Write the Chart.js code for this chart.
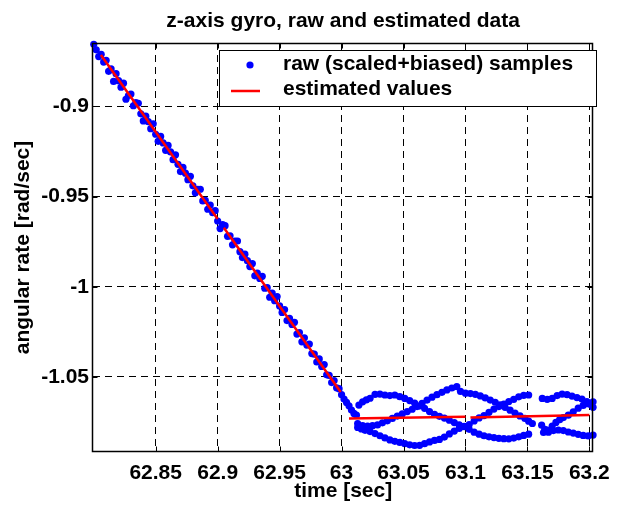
<!DOCTYPE html>
<html>
<head>
<meta charset="utf-8">
<script src="https://cdn.jsdelivr.net/npm/chart.js@4/dist/chart.umd.min.js"></script>
<style>
  html, body { margin: 0; padding: 0; background: #fff; }
  canvas { display: block; }
</style>
</head>
<body>
<canvas id="gyroChart" width="619" height="506"></canvas>
<script>
// axis ticks and ranges
var xTickValues = [62.85, 62.9, 62.95, 63, 63.05, 63.1, 63.15, 63.2];
var yTickValues = [-1.05, -1, -0.95, -0.9];
var xRange = [62.7994, 63.2032];
var yRange = [-1.0916, -0.8648];

// raw samples, ramp part (62.8 .. 63.012)
var rampTime = [
  62.800,62.802,62.804,62.806,62.808,62.810,62.812,62.814,62.816,62.818,
  62.820,62.822,62.824,62.826,62.828,62.830,62.832,62.834,62.836,62.838,
  62.840,62.842,62.844,62.846,62.848,62.850,62.852,62.854,62.856,62.858,
  62.860,62.862,62.864,62.866,62.868,62.870,62.872,62.874,62.876,62.878,
  62.880,62.882,62.884,62.886,62.888,62.890,62.892,62.894,62.896,62.898,
  62.900,62.902,62.904,62.906,62.908,62.910,62.912,62.914,62.916,62.918,
  62.920,62.922,62.924,62.926,62.928,62.930,62.932,62.934,62.936,62.938,
  62.940,62.942,62.944,62.946,62.948,62.950,62.952,62.954,62.956,62.958,
  62.960,62.962,62.964,62.966,62.968,62.970,62.972,62.974,62.976,62.978,
  62.980,62.982,62.984,62.986,62.988,62.990,62.992,62.994,62.996,62.998,
  63.000,63.002,63.004,63.006,63.008,63.010,63.012
];
var rampRate = [
  -0.8655,-0.8686,-0.8723,-0.8711,-0.8754,-0.8744,-0.8805,-0.8792,-0.8861,-0.8818,
  -0.8857,-0.8893,-0.8871,-0.8960,-0.8939,-0.8931,-0.8996,-0.8978,-0.8982,-0.9041,
  -0.9080,-0.9054,-0.9084,-0.9123,-0.9096,-0.9154,-0.9193,-0.9166,-0.9202,-0.9243,
  -0.9216,-0.9252,-0.9295,-0.9268,-0.9321,-0.9361,-0.9338,-0.9370,-0.9406,-0.9387,
  -0.9440,-0.9479,-0.9459,-0.9459,-0.9524,-0.9521,-0.9570,-0.9547,-0.9589,-0.9578,
  -0.9635,-0.9677,-0.9655,-0.9661,-0.9720,-0.9717,-0.9767,-0.9746,-0.9746,-0.9805,
  -0.9838,-0.9819,-0.9855,-0.9888,-0.9871,-0.9939,-0.9924,-0.9954,-0.9942,-1.0008,
  -1.0005,-1.0058,-1.0035,-1.0077,-1.0054,-1.0106,-1.0142,-1.0126,-1.0187,-1.0175,
  -1.0209,-1.0197,-1.0262,-1.0254,-1.0305,-1.0283,-1.0323,-1.0317,-1.0370,-1.0373,
  -1.0417,-1.0400,-1.0442,-1.0431,-1.0488,-1.0491,-1.0531,-1.0520,-1.0560,-1.0565,
  -1.0598,-1.0622,-1.0641,-1.0660,-1.0683,-1.0702,-1.0712
];

// raw samples after 63 s: three interleaved strands
var strandATime = [
  63.013,63.017,63.021,63.025,63.029,63.033,63.037,63.041,63.045,63.049,
  63.053,63.057,63.061,63.065,63.069,63.073,63.077,63.081,63.085,63.089,
  63.093,63.096,63.100,63.104,63.108,63.112,63.116,63.120,63.124,63.128,
  63.132,63.136,63.140,63.144,63.148,63.151,63.154,
  63.1615,63.164,63.167,63.171,63.175,63.179,63.183,63.187,63.191,63.195,63.199,63.203
];
var strandARate = [
  -1.0758,-1.0770,-1.0772,-1.0770,-1.0766,-1.0754,-1.0743,-1.0730,-1.0717,-1.0705,
  -1.0692,-1.0679,-1.0664,-1.0646,-1.0628,-1.0612,-1.0598,-1.0585,-1.0572,-1.0561,
  -1.0553,-1.0580,-1.0590,-1.0592,-1.0596,-1.0605,-1.0616,-1.0628,-1.0640,-1.0655,
  -1.0668,-1.0684,-1.0700,-1.0716,-1.0730,-1.0745,-1.0758,
  -1.0767,-1.0790,-1.0806,-1.0797,-1.0794,-1.0797,-1.0805,-1.0811,-1.0818,-1.0824,-1.0827,-1.0822
];
var strandBTime = [
  63.014,63.017,63.020,63.023,63.027,63.031,63.035,63.039,63.043,63.047,
  63.051,63.055,63.059,63.063,63.067,63.071,63.075,63.079,63.083,63.087,
  63.091,63.095,63.099,63.103,63.107,63.111,63.115,63.119,63.123,63.127,
  63.131,63.135,63.139,63.143,63.147,63.151,
  63.163,63.166,63.170,63.173,63.176,63.179,63.183,63.187,63.191,63.195,63.199,63.203
];
var strandBRate = [
  -1.0656,-1.0638,-1.0627,-1.0618,-1.0597,-1.0595,-1.0600,-1.0603,-1.0600,-1.0609,
  -1.0619,-1.0631,-1.0645,-1.0660,-1.0674,-1.0692,-1.0707,-1.0718,-1.0728,-1.0740,
  -1.0753,-1.0766,-1.0775,-1.0790,-1.0806,-1.0817,-1.0826,-1.0832,-1.0836,-1.0840,
  -1.0842,-1.0843,-1.0839,-1.0832,-1.0824,-1.0817,
  -1.0808,-1.0795,-1.0772,-1.0752,-1.0737,-1.0725,-1.0712,-1.0693,-1.0673,-1.0658,-1.0648,-1.0638
];
var strandCTime = [
  63.013,63.016,63.019,63.023,63.027,63.031,63.035,63.039,63.043,63.047,
  63.051,63.055,63.059,63.063,63.067,63.071,63.075,63.079,63.083,63.087,
  63.091,63.095,63.099,63.103,63.107,63.111,63.115,63.119,63.123,63.127,
  63.131,63.135,63.139,63.143,63.147,63.151,
  63.162,63.166,63.170,63.174,63.178,63.182,63.186,63.190,63.194,63.198,63.201,63.203
];
var strandCRate = [
  -1.0780,-1.0788,-1.0796,-1.0803,-1.0814,-1.0826,-1.0838,-1.0849,-1.0857,-1.0863,
  -1.0870,-1.0876,-1.0880,-1.0879,-1.0870,-1.0860,-1.0852,-1.0846,-1.0833,-1.0816,
  -1.0800,-1.0785,-1.0774,-1.0764,-1.0744,-1.0727,-1.0714,-1.0696,-1.0678,-1.0664,
  -1.0650,-1.0636,-1.0624,-1.0610,-1.0602,-1.0600,
  -1.0619,-1.0624,-1.0619,-1.0603,-1.0595,-1.0598,-1.0606,-1.0614,-1.0622,-1.0637,-1.0652,-1.0668
];

// estimated values, one piece per 0.1 s window (null = break)
var estTime = [62.8058, 62.9000, 62.9025, 62.9050, 62.9993, 63.0025, 63.0060, 63.1000, 63.1020, 63.1040, 63.2000];
var estRate = [-0.8715, -0.9624, null, -0.9672, -1.0583, null, -1.0730, -1.0721, null, -1.0724, -1.0711];

var legendLabels = ['raw (scaled+biased) samples', 'estimated values'];

function toPoints(times, rates) {
    return times.map(function(t, i) { return { x: t, y: rates[i] }; });
}

var rawPoints = [].concat(
    toPoints(rampTime, rampRate),
    toPoints(strandATime, strandARate),
    toPoints(strandBTime, strandBRate),
    toPoints(strandCTime, strandCRate)
);

var FONT = '"Liberation Sans", Arial, Helvetica, sans-serif';
Chart.defaults.font.family = FONT;
Chart.defaults.font.weight = 'bold';
Chart.defaults.font.size = 21;
Chart.defaults.color = '#000';

// box, inward ticks and the boxed legend, MATLAB style
var matlabFrame = {
    id: 'matlabFrame',
    afterDraw: function(chart) {
        var ctx = chart.ctx;
        var a = chart.chartArea;
        var xs = chart.scales.x, ys = chart.scales.y;
        var L = Math.round(a.left) - 0.5, R = Math.round(a.right) - 0.5;
        var T = Math.round(a.top) + 0.5, B = Math.round(a.bottom) - 0.5;
        ctx.save();
        ctx.strokeStyle = '#000';
        ctx.lineWidth = 1;
        ctx.setLineDash([]);
        ctx.beginPath();
        xTickValues.forEach(function(v) {
            var px = Math.round(xs.getPixelForValue(v)) + 0.5;
            ctx.moveTo(px, B); ctx.lineTo(px, B - 5);
            ctx.moveTo(px, T); ctx.lineTo(px, T + 5);
        });
        yTickValues.forEach(function(v) {
            var py = Math.round(ys.getPixelForValue(v)) + 0.5;
            ctx.moveTo(L, py); ctx.lineTo(L + 5, py);
            ctx.moveTo(R, py); ctx.lineTo(R - 5, py);
        });
        ctx.stroke();
        ctx.lineWidth = 1.5;
        ctx.strokeRect(L, T, R - L, B - T);

        // legend
        var bx = 219.5, by = 50.5, bw = 377, bh = 56;
        ctx.fillStyle = '#fff';
        ctx.fillRect(bx, by, bw, bh);
        ctx.lineWidth = 1;
        ctx.strokeRect(bx, by, bw, bh);
        ctx.fillStyle = '#0000ff';
        ctx.beginPath();
        ctx.arc(250, 65, 3.6, 0, Math.PI * 2);
        ctx.fill();
        ctx.strokeStyle = '#ff0000';
        ctx.lineWidth = 2.5;
        ctx.beginPath();
        ctx.moveTo(231, 91); ctx.lineTo(260, 91);
        ctx.stroke();
        ctx.fillStyle = '#000';
        ctx.font = 'bold 21px ' + FONT;
        ctx.textAlign = 'left';
        ctx.textBaseline = 'middle';
        ctx.fillText(legendLabels[0], 283, 64.5);
        ctx.fillText(legendLabels[1], 283, 89.5);
        ctx.restore();
    }
};

var ctx = document.getElementById('gyroChart').getContext('2d');
var gyroChart = new Chart(ctx, {
    type: 'scatter',
    data: {
        datasets: [{
            label: legendLabels[0],
            data: rawPoints,
            backgroundColor: '#0000ff',
            borderWidth: 0,
            pointRadius: 3.6,
            clip: false,
            order: 2
        }, {
            label: legendLabels[1],
            type: 'line',
            data: toPoints(estTime, estRate),
            borderColor: '#ff0000',
            borderWidth: 2.5,
            pointRadius: 0,
            showLine: true,
            spanGaps: false,
            order: 1
        }]
    },
    options: {
        responsive: false,
        devicePixelRatio: 1,
        animation: false,
        layout: { padding: { left: 0, right: 17, top: 0, bottom: 0 } },
        plugins: {
            legend: { display: false },
            tooltip: { enabled: false },
            title: {
                display: true,
                text: 'z-axis gyro, raw and estimated data',
                fullSize: false,
                font: { size: 21, weight: 'bold' },
                padding: { top: 8.4, bottom: 9.4 }
            }
        },
        scales: {
            x: {
                type: 'linear',
                min: xRange[0],
                max: xRange[1],
                afterBuildTicks: function(scale) {
                    scale.ticks = xTickValues.map(function(v) { return { value: v }; });
                },
                afterFit: function(scale) { scale.height = 54; },
                ticks: {
                    padding: 9,
                    maxRotation: 0,
                    autoSkip: false,
                    callback: function(value) { return String(value); }
                },
                grid: { color: '#000', lineWidth: 1, drawTicks: false },
                border: { display: false, dash: [7, 5] },
                title: {
                    display: true,
                    text: 'time [sec]',
                    padding: { top: 0, bottom: 2 }
                }
            },
            y: {
                type: 'linear',
                min: yRange[0],
                max: yRange[1],
                afterBuildTicks: function(scale) {
                    scale.ticks = yTickValues.map(function(v) { return { value: v }; });
                },
                afterFit: function(scale) { scale.width = 93; },
                ticks: {
                    padding: 4,
                    autoSkip: false,
                    callback: function(value) { return String(value); }
                },
                grid: { color: '#000', lineWidth: 1, drawTicks: false },
                border: { display: false, dash: [7, 5] },
                title: {
                    display: true,
                    text: 'angular rate [rad/sec]',
                    padding: { top: 11, bottom: 0 }
                }
            }
        }
    },
    plugins: [matlabFrame]
});
</script>
</body>
</html>
